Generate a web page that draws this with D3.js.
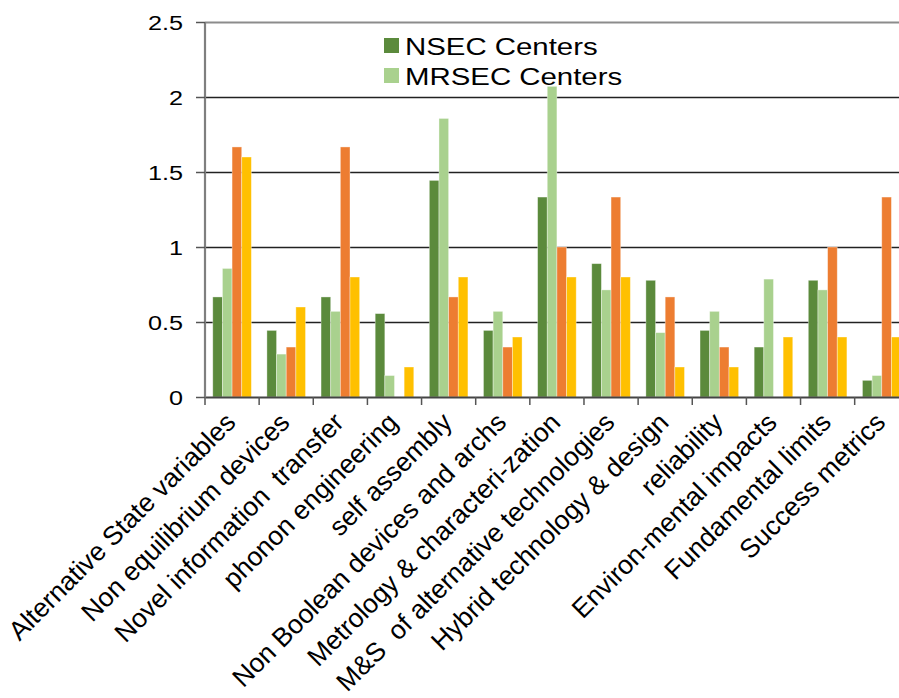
<!DOCTYPE html>
<html>
<head>
<meta charset="utf-8">
<script src="https://cdn.jsdelivr.net/npm/d3@7/dist/d3.min.js"></script>
<style>
  html, body { margin: 0; padding: 0; background: #fff; overflow: hidden; }
  svg { display: block; }
  text { font-family: "Liberation Sans", Arial, sans-serif; fill: #000; white-space: pre; }
</style>
</head>
<body>
<svg id="chart" width="899" height="698"></svg>
<script>
// Topic categories along the x axis
const categories = [
  "Alternative State variables",
  "Non equilibrium devices",
  "Novel information  transfer",
  "phonon engineering",
  "self assembly",
  "Non Boolean devices and archs",
  "Metrology & characteri-zation",
  "M&S  of alternative technologies",
  "Hybrid technology & design",
  "reliability",
  "Environ-mental impacts",
  "Fundamental limits",
  "Success metrics"
];

// Series values, one per category
const nsecValues   = [0.667, 0.444, 0.667, 0.556, 1.444, 0.444, 1.333, 0.889, 0.778, 0.444, 0.333, 0.778, 0.111];
const mrsecValues  = [0.857, 0.286, 0.571, 0.143, 1.857, 0.571, 2.071, 0.714, 0.429, 0.571, 0.786, 0.714, 0.143];
const series3Values = [1.667, 0.333, 1.667, 0, 0.667, 0.333, 1.0, 1.333, 0.667, 0.333, 0, 1.0, 1.333];
const series4Values = [1.6, 0.6, 0.8, 0.2, 0.8, 0.4, 0.8, 0.8, 0.2, 0.2, 0.4, 0.4, 0.4];

// Legend entries (only the first two series are named)
const legendNames = ["NSEC Centers", "MRSEC Centers"];

// Y axis ticks
const yTicks = [0, 0.5, 1, 1.5, 2, 2.5];
const yTickLabels = ["0", "0.5", "1", "1.5", "2", "2.5"];

const seriesKeys = ["nsec", "mrsec", "s3", "s4"];
const seriesValues = { nsec: nsecValues, mrsec: mrsecValues, s3: series3Values, s4: series4Values };
const colors = { nsec: "#5B8A3C", mrsec: "#A9D18E", s3: "#ED7D31", s4: "#FFC000" };

const rows = categories.map((c, i) => ({
  cat: c,
  values: seriesKeys.map(k => ({ key: k, value: seriesValues[k][i] }))
}));

const svg = d3.select("#chart");

// Plot frame (extends slightly past the right edge of the page)
const plot = { left: 205, top: 22, bottom: 397, bandW: 54.14 };
const plotRight = plot.left + plot.bandW * categories.length;

const x0 = d3.scaleBand().domain(categories).range([plot.left, plotRight]).paddingInner(0).paddingOuter(0);
const pad = x0.bandwidth() * 0.1435;
const x1 = d3.scaleBand().domain(seriesKeys).range([pad, x0.bandwidth() - pad]).padding(0);
const y = d3.scaleLinear().domain([0, 2.5]).range([plot.bottom, plot.top]);

const TEXT_SX = 1.2; // horizontal labels are set slightly wide

// Horizontal gridlines
svg.append("g")
  .selectAll("line")
  .data(yTicks.filter(t => t > 0))
  .join("line")
  .attr("x1", plot.left).attr("x2", plotRight)
  .attr("y1", d => Math.round(y(d)) + 0.5).attr("y2", d => Math.round(y(d)) + 0.5)
  .attr("stroke", d => d === 2.5 ? "#8c8c8c" : "#222")
  .attr("stroke-width", d => d === 2.5 ? 2 : 1.3);

// Bars
const groups = svg.append("g")
  .selectAll("g")
  .data(rows)
  .join("g")
  .attr("transform", d => `translate(${x0(d.cat)},0)`);

groups.selectAll("rect")
  .data(d => d.values.filter(v => v.value > 0))
  .join("rect")
  .attr("x", d => x1(d.key))
  .attr("width", x1.bandwidth())
  .attr("y", d => y(d.value))
  .attr("height", d => y(0) - y(d.value))
  .attr("fill", d => colors[d.key])
  .attr("stroke", "rgba(255,255,255,0.45)")
  .attr("stroke-width", 0.8);

// X axis line and category ticks
const xAxis = d3.axisBottom(x0).tickSize(0).tickFormat("");
svg.append("g")
  .attr("transform", `translate(0,${plot.bottom})`)
  .call(xAxis)
  .call(g => g.select(".domain").attr("stroke", "#444").attr("stroke-width", 2));

svg.append("g")
  .selectAll("line")
  .data(d3.range(categories.length + 1))
  .join("line")
  .attr("x1", i => plot.left + i * x0.step())
  .attr("x2", i => plot.left + i * x0.step())
  .attr("y1", plot.bottom).attr("y2", plot.bottom + 8)
  .attr("stroke", "#555").attr("stroke-width", 1.5);

// Y axis line and ticks
svg.append("line")
  .attr("x1", plot.left).attr("x2", plot.left)
  .attr("y1", plot.top).attr("y2", plot.bottom)
  .attr("stroke", "#7f7f7f").attr("stroke-width", 2.2);

svg.append("g")
  .selectAll("line")
  .data(yTicks)
  .join("line")
  .attr("x1", plot.left - 9).attr("x2", plot.left)
  .attr("y1", d => Math.round(y(d)) + 0.5).attr("y2", d => Math.round(y(d)) + 0.5)
  .attr("stroke", "#555").attr("stroke-width", 1.5);

svg.append("g")
  .selectAll("text")
  .data(yTicks)
  .join("text")
  .attr("transform", d => `translate(183,${y(d) + 8}) scale(${TEXT_SX},1)`)
  .attr("text-anchor", "end")
  .style("font-size", "21px")
  .text((d, i) => yTickLabels[i]);

// Rotated category labels
svg.append("g")
  .selectAll("text")
  .data(categories)
  .join("text")
  .attr("transform", d => `translate(${x0(d) + x0.bandwidth() / 2 + 5},${plot.bottom + 27}) rotate(-45)`)
  .attr("text-anchor", "end")
  .style("font-size", "26.5px")
  .text(d => d);

// Legend
const legend = svg.append("g");
legendNames.forEach((name, i) => {
  const yy = 38 + i * 30;
  legend.append("rect")
    .attr("x", 384).attr("y", yy)
    .attr("width", 15).attr("height", 15)
    .attr("fill", colors[seriesKeys[i]]);
  legend.append("text")
    .attr("transform", `translate(405,${yy + 17}) scale(${TEXT_SX},1)`)
    .style("font-size", "24.5px")
    .text(name);
});
</script>
</body>
</html>
